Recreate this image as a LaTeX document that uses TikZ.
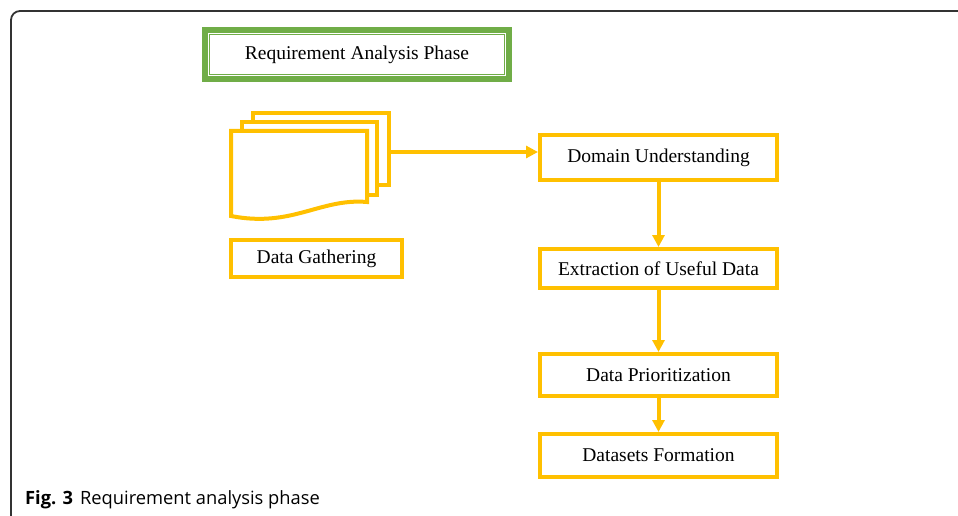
\documentclass[tikz,border=0pt]{standalone}
\usepackage{fontspec}
\setmainfont{Liberation Serif}
\newfontfamily\capfont{Open Sans}
\usepackage{tikz}
\usetikzlibrary{calc,arrows.meta}
\definecolor{hyellow}{HTML}{FFC000}
\definecolor{hgreen}{HTML}{70AD47}
\definecolor{framecolor}{HTML}{333333}
\tikzstyle{stepbox} = [
    draw=hyellow,
    line width=4pt,
    rectangle,
    inner sep=0pt,
    minimum width=237pt,
    font=\fontsize{19.5}{22}\selectfont
    ]
\tikzstyle{phasebox} = [
    draw=hgreen,
    line width=6pt,
    rectangle,
    inner sep=0pt,
    minimum width=304pt,
    minimum height=49pt,
    font=\fontsize{19.5}{22}\selectfont
    ]
\tikzstyle{docpage} = [
    draw=hyellow,
    fill=white,
    line width=4pt
    ]
\tikzstyle{flow} = [
    draw=hyellow,
    line width=4pt,
    -{Triangle[length=12pt,width=12pt]}
    ]
\begin{document}
\begin{tikzpicture}[x=1pt,y=-1pt]
\useasboundingbox (0,0) rectangle (958,516);
% frame of the figure
\draw[framecolor, line width=1.8pt, rounded corners=9pt] (962,11) -- (11,11) -- (11,520);
% title
\node[phasebox] (phase) at (357,54.5) {Requirement Analysis Phase};
\draw[hgreen, line width=1.5pt] ($(phase.north west)+(7.5,7.5)$) rectangle ($(phase.south east)+(-7.5,-7.5)$);
% stack of documents
\node[docpage, rectangle, inner sep=0pt, minimum width=136pt, minimum height=72pt] (docs) at (321,149) {};
\draw[docpage] (242,122) rectangle (377,195);
\draw[docpage] (231,216) -- (231,131) -- (367,131) -- (367,202)
    .. controls (320,198) and (292,228) .. (231,216) -- cycle;
\node[stepbox, minimum width=171pt, minimum height=37pt] (gather) at (316.5,258.5) {Data Gathering};
% steps
\node[stepbox, minimum height=45pt] (domain) at (658.5,157.5) {Domain Understanding};
\node[stepbox, minimum height=39pt] (extract) at (658.5,268.5) {Extraction of Useful Data};
\node[stepbox, minimum height=42pt] (prior) at (658.5,375) {Data Prioritization};
\node[stepbox, minimum height=43pt] (sets) at (658.5,455.5) {Datasets Formation};
\draw[flow] ([yshift=-3pt]docs.east) -- ([yshift=-3pt]docs.east -| domain.west);
\draw[flow] (domain.south) -- (extract.north);
\draw[flow] (extract.south) -- (prior.north);
\draw[flow] (prior.south) -- (sets.north);
% caption
\node[anchor=base west, inner sep=0pt, font=\capfont\fontsize{18.3}{21}\selectfont] (caption) at (25,504)
    {\textbf{Fig. 3}\hspace{7pt}Requirement analysis phase};
\end{tikzpicture}
\end{document}
